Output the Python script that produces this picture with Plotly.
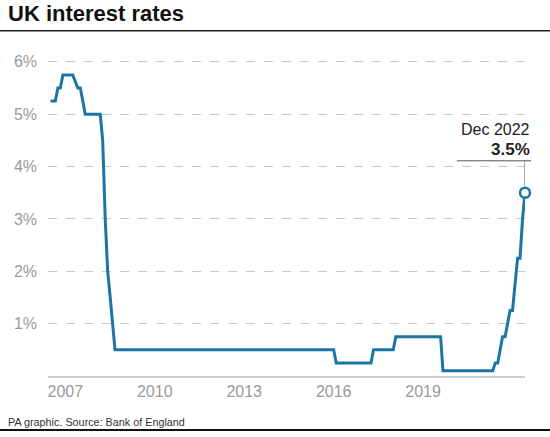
import plotly.graph_objects as go

# Bank Rate (month, % at the bends of the line)
months = [
    "2007-01-01", "2007-03-01", "2007-04-01", "2007-05-01", "2007-06-01",
    "2007-10-01", "2007-12-01", "2008-01-01", "2008-02-01", "2008-03-01",
    "2008-09-01", "2008-10-01", "2008-11-01", "2008-12-01", "2009-01-01",
    "2009-02-01", "2009-03-01", "2016-07-01", "2016-08-01", "2017-10-01",
    "2017-11-01", "2018-07-01", "2018-08-01", "2020-02-01", "2020-03-01",
    "2021-11-01", "2021-12-01", "2022-01-01", "2022-02-01", "2022-03-01",
    "2022-04-01", "2022-05-01", "2022-06-01", "2022-07-01", "2022-08-01",
    "2022-09-01", "2022-10-01", "2022-11-01", "2022-12-01",
]
rates = [
    5.25, 5.25, 5.5, 5.5, 5.75,
    5.75, 5.5, 5.5, 5.25, 5.0,
    5.0, 4.5, 3.0, 2.0, 1.5,
    1.0, 0.5, 0.5, 0.25, 0.25,
    0.5, 0.5, 0.75, 0.75, 0.1,
    0.1, 0.25, 0.25, 0.5, 0.75,
    0.75, 1.0, 1.25, 1.25, 1.75,
    2.25, 2.25, 3.0, 3.5,
]

year_ticks = ["2007-07-01", "2010-07-01", "2013-07-01", "2016-07-01", "2019-07-01"]
year_labels = ["2007", "2010", "2013", "2016", "2019"]
pct_ticks = [1, 2, 3, 4, 5, 6]
pct_labels = ["1%", "2%", "3%", "4%", "5%", "6%"]

BLUE = "#1c75a5"
FONT = "Liberation Sans"

fig = go.Figure()

fig.add_trace(go.Scatter(
    x=months, y=rates, mode="lines",
    line=dict(color=BLUE, width=3),
    hoverinfo="skip", showlegend=False,
))

# end marker
fig.add_trace(go.Scatter(
    x=[months[-1]], y=[rates[-1]], mode="markers",
    marker=dict(size=10, color="white", line=dict(color=BLUE, width=2.5)),
    cliponaxis=False, hoverinfo="skip", showlegend=False,
))

fig.update_xaxes(
    type="date", range=["2006-12-01", "2022-12-01"],
    tickvals=year_ticks, ticktext=year_labels,
    showgrid=False, zeroline=False,
    showline=True, linecolor="#cfcfcf", linewidth=1.5,
    ticks="", ticklabelstandoff=0,
    tickfont=dict(family=FONT, size=16, color="#9a9a9a"),
)
fig.update_yaxes(
    range=[0, 6.15], tickvals=pct_ticks, ticktext=pct_labels,
    showgrid=True, gridcolor="#c8c8c8", gridwidth=1, griddash="dash",
    zeroline=False, showline=False, ticks="", ticklabelstandoff=10,
    tickfont=dict(family=FONT, size=16, color="#9a9a9a"),
)

# leader from label to end point
fig.add_shape(type="line", xref="paper", yref="y",
              x0=0.857, x1=1.0126, y0=4.11, y1=4.11,
              line=dict(color="#555555", width=1))
fig.add_shape(type="line", xref="x", yref="y",
              x0=months[-1], x1=months[-1], y0=4.11, y1=3.62,
              line=dict(color="#555555", width=1))

# rules under the title and at the bottom
fig.add_shape(type="line", xref="paper", yref="paper",
              x0=-0.11, x1=1.06, y0=1.0724, y1=1.0724,
              line=dict(color="#222222", width=1.5))
fig.add_shape(type="line", xref="paper", yref="paper",
              x0=-0.11, x1=1.06, y0=-0.1677, y1=-0.1677,
              line=dict(color="#111111", width=2))

fig.add_annotation(text="UK interest rates", xref="paper", yref="paper",
                   x=-0.0881, y=1.127, xanchor="left", yanchor="middle",
                   showarrow=False,
                   font=dict(family=FONT, size=22, color="#111111", weight="bold"))
fig.add_annotation(text="PA graphic. Source: Bank of England", xref="paper", yref="paper",
                   x=-0.0881, y=-0.1444, xanchor="left", yanchor="middle",
                   showarrow=False,
                   font=dict(family=FONT, size=10.8, color="#333333"))
fig.add_annotation(text="Dec 2022", xref="x", yref="y",
                   x=months[-1], y=4.70, xanchor="right", yanchor="middle",
                   xshift=7, showarrow=False,
                   font=dict(family=FONT, size=16, color="#222222"))
fig.add_annotation(text="3.5%", xref="x", yref="y",
                   x=months[-1], y=4.32, xanchor="right", yanchor="middle",
                   xshift=7, showarrow=False,
                   font=dict(family=FONT, size=17, color="#222222", weight="bold"))

fig.update_layout(
    width=550, height=437,
    margin=dict(l=48, r=25, t=54, b=61),
    paper_bgcolor="white", plot_bgcolor="white",
    showlegend=False,
)

# page body has an 8px default margin; drop it so the figure sits at 0,0
fig.write_html("out.html", config={"displayModeBar": False},
               post_script="document.body.style.margin = '0';")
